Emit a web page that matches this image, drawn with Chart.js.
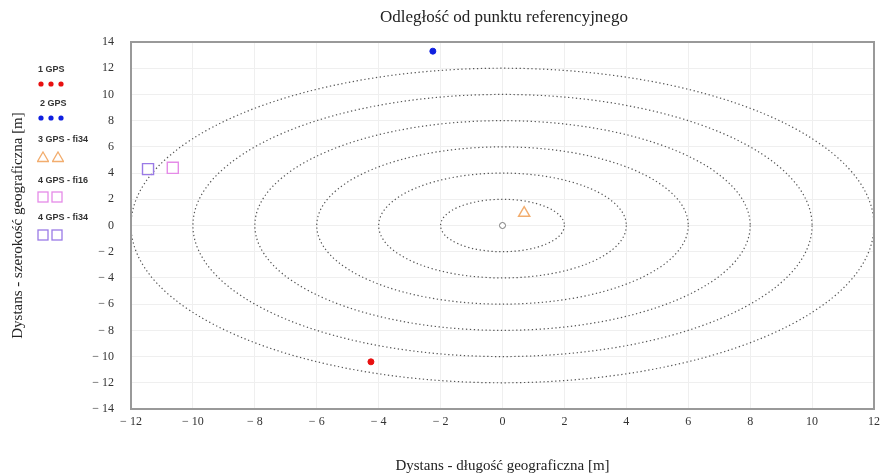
<!DOCTYPE html>
<html lang="pl">
  <head>
    <meta charset="UTF-8" />
    <title>Odległość od punktu referencyjnego</title>
    <style>
      body {
        margin: 0;
        background: #fff;
        overflow: hidden;
      }
      .wrap {
        position: relative;
        width: 886px;
        height: 474px;
      }
      .title {
        position: absolute;
        left: 304px;
        width: 400px;
        top: 7px;
        text-align: center;
        font-family: "Liberation Serif", "Times New Roman", serif;
        font-size: 17px;
        color: #222;
      }
      .legend {
        position: absolute;
        font-family: "Liberation Sans", Arial, sans-serif;
        font-weight: bold;
        font-size: 9px;
        color: #333;
      }
      .legend svg {
        position: absolute;
      }
    </style>
  </head>
  <body>
    <div class="wrap">
      <canvas id="chart" width="886" height="474"></canvas>
      <div class="title">Odległość od punktu referencyjnego</div>
      <div id="legend"></div>
    </div>

    <script src="https://cdn.jsdelivr.net/npm/chart.js"></script>
    <script>
      // pomiary (metry od punktu referencyjnego)
      const gps1X = [-4.25];
      const gps1Y = [-10.4];
      const gps2X = [-2.25];
      const gps2Y = [13.3];
      const gps3fi34X = [0.7];
      const gps3fi34Y = [0.95];
      const gps4fi16X = [-10.65];
      const gps4fi16Y = [4.4];
      const gps4fi34X = [-11.45];
      const gps4fi34Y = [4.3];
      const refX = [0];
      const refY = [0];

      // promienie okręgów odniesienia [m]
      const ringRadii = [2, 4, 6, 8, 10, 12];

      const xTicks = [-12, -10, -8, -6, -4, -2, 0, 2, 4, 6, 8, 10, 12];
      const yTicks = [-14, -12, -10, -8, -6, -4, -2, 0, 2, 4, 6, 8, 10, 12, 14];

      const series = [
        { label: "1 GPS", x: gps1X, y: gps1Y, style: "circle", color: "#e81010", fill: true, radius: 3 },
        { label: "2 GPS", x: gps2X, y: gps2Y, style: "circle", color: "#1020e0", fill: true, radius: 3 },
        { label: "3 GPS - fi34", x: gps3fi34X, y: gps3fi34Y, style: "triangle", color: "#f2ad6e", fill: false, radius: 6.5 },
        { label: "4 GPS - fi16", x: gps4fi16X, y: gps4fi16Y, style: "rect", color: "#e58be8", fill: false, radius: 7.8 },
        { label: "4 GPS - fi34", x: gps4fi34X, y: gps4fi34Y, style: "rect", color: "#9a7ae6", fill: false, radius: 7.8 },
      ];

      function toPoints(xs, ys) {
        return xs.map((v, i) => ({ x: v, y: ys[i] }));
      }

      function minusLabel(v) {
        return v < 0 ? "\u2212 " + Math.abs(v) : String(v);
      }

      const datasets = series.map((s) => ({
        label: s.label,
        data: toPoints(s.x, s.y),
        pointStyle: s.style,
        pointRadius: s.radius,
        borderColor: s.color,
        backgroundColor: s.fill ? s.color : "rgba(0,0,0,0)",
        borderWidth: s.fill ? 1 : 1.4,
      }));
      datasets.push({
        label: "ref",
        data: toPoints(refX, refY),
        pointStyle: "circle",
        pointRadius: 3,
        borderColor: "#777",
        backgroundColor: "#fff",
        borderWidth: 1,
      });

      // okręgi (w jednostkach danych -> elipsy na ekranie) + ramka
      const ringsPlugin = {
        id: "rings",
        beforeDatasetsDraw(chart) {
          const { ctx, chartArea, scales } = chart;
          const cx = scales.x.getPixelForValue(0);
          const cy = scales.y.getPixelForValue(0);
          ctx.save();
          ctx.beginPath();
          ctx.rect(chartArea.left, chartArea.top, chartArea.width, chartArea.height);
          ctx.clip();
          ctx.strokeStyle = "#555";
          ctx.lineWidth = 1.2;
          ctx.setLineDash([1.3, 2.6]);
          ringRadii.forEach((r) => {
            const rx = scales.x.getPixelForValue(r) - cx;
            const ry = cy - scales.y.getPixelForValue(r);
            ctx.beginPath();
            ctx.ellipse(cx, cy, rx, ry, 0, 0, Math.PI * 2);
            ctx.stroke();
          });
          ctx.restore();

          ctx.save();
          ctx.strokeStyle = "#999";
          ctx.lineWidth = 2;
          ctx.strokeRect(chartArea.left, chartArea.top, chartArea.width, chartArea.height);
          ctx.restore();
        },
      };

      const serif = "'Liberation Serif', 'Times New Roman', serif";

      new Chart(document.getElementById("chart"), {
        type: "scatter",
        data: { datasets: datasets },
        options: {
          responsive: false,
          animation: false,
          layout: { padding: { left: 9, right: 7, top: 42, bottom: 0 } },
          plugins: {
            legend: { display: false },
            tooltip: { enabled: false },
          },
          scales: {
            x: {
              type: "linear",
              min: -12,
              max: 12,
              afterBuildTicks: (s) => {
                s.ticks = xTicks.map((v) => ({ value: v }));
              },
              afterFit: (s) => {
                s.height = 65;
              },
              ticks: {
                callback: minusLabel,
                color: "#333",
                font: { family: serif, size: 12 },
                padding: 6,
                maxRotation: 0,
              },
              grid: { color: "#efefef", drawTicks: false },
              border: { display: false },
              title: {
                display: true,
                text: "Dystans - długość geograficzna [m]",
                color: "#222",
                font: { family: serif, size: 15 },
                padding: { top: 0, bottom: -1 },
              },
            },
            y: {
              type: "linear",
              min: -14,
              max: 14,
              afterBuildTicks: (s) => {
                s.ticks = yTicks.map((v) => ({ value: v }));
              },
              afterFit: (s) => {
                s.width = 122;
              },
              ticks: {
                callback: minusLabel,
                color: "#333",
                font: { family: serif, size: 12 },
                padding: 17,
              },
              grid: { color: "#efefef", drawTicks: false },
              border: { display: false },
              title: {
                display: true,
                text: "Dystans - szerokość geograficzna [m]",
                color: "#222",
                font: { family: serif, size: 15 },
                padding: { top: 0, bottom: 0 },
              },
            },
          },
        },
        plugins: [ringsPlugin],
      });

      // legenda po lewej stronie (HTML)
      const legendRows = [
        { textY: 64, markY: 84, count: 3, gap: 10, textX: 38, markX: 41 },
        { textY: 98, markY: 118, count: 3, gap: 10, textX: 40, markX: 41 },
        { textY: 134, markY: 157, count: 2, gap: 15, textX: 38, markX: 43 },
        { textY: 175, markY: 197, count: 2, gap: 14, textX: 38, markX: 43 },
        { textY: 212, markY: 235, count: 2, gap: 14, textX: 38, markX: 43 },
      ];

      function markerSvg(s, cx, cy) {
        let shape = "";
        if (s.style === "circle") {
          shape = `<circle cx="6" cy="6" r="2.6" fill="${s.color}"/>`;
        } else if (s.style === "triangle") {
          shape = `<polygon points="6,1 11.5,10.5 0.5,10.5" fill="none" stroke="${s.color}" stroke-width="1.3"/>`;
        } else {
          shape = `<rect x="1" y="1" width="10" height="10" fill="none" stroke="${s.color}" stroke-width="1.3"/>`;
        }
        return `<svg width="12" height="12" style="left:${cx - 6}px;top:${cy - 6}px">${shape}</svg>`;
      }

      const legendEl = document.getElementById("legend");
      series.forEach((s, i) => {
        const row = legendRows[i];
        const div = document.createElement("div");
        div.className = "legend";
        div.style.left = "0px";
        div.style.top = "0px";
        let html = `<span style="position:absolute;left:${row.textX}px;top:${row.textY}px;white-space:nowrap">${s.label}</span>`;
        for (let k = 0; k < row.count; k++) {
          html += markerSvg(s, row.markX + k * row.gap, row.markY);
        }
        div.innerHTML = html;
        legendEl.appendChild(div);
      });
    </script>
  </body>
</html>
